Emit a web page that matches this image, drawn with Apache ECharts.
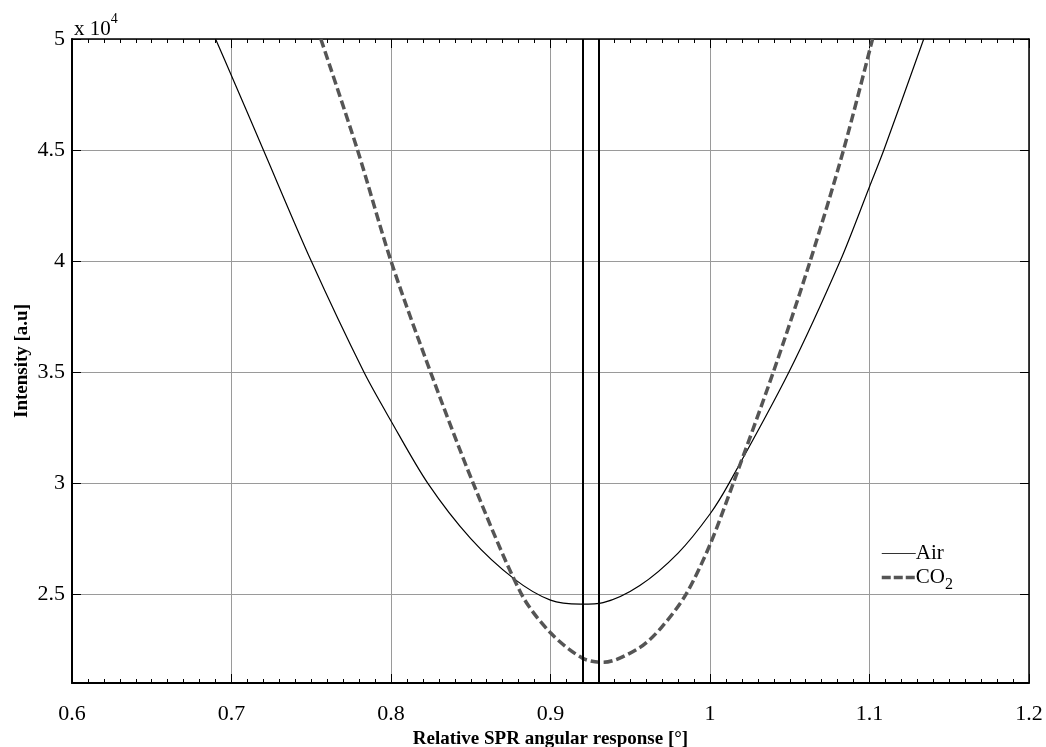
<!DOCTYPE html>
<html>
<head>
<meta charset="utf-8">
<script src="https://cdn.jsdelivr.net/npm/echarts@6/dist/echarts.min.js"></script>
<style>
  html, body { margin: 0; padding: 0; background: #fff; }
  #chart { width: 1046px; height: 747px; }
</style>
</head>
<body>
<div id="chart"></div>
<script>
// values (x in degrees, intensity in a.u.)
const airX = [0.690, 0.700, 0.720, 0.750, 0.783, 0.800, 0.823, 0.850, 0.877, 0.900, 0.919, 0.933, 0.956, 0.980, 1.000, 1.012, 1.0495, 1.0816, 1.100, 1.109, 1.134];
const airY = [50000, 48350, 45000, 40000, 35000, 32800, 30000, 27500, 25700, 24730, 24550, 24620, 25390, 26850, 28610, 30000, 35000, 40000, 43350, 45000, 50000];

const co2X = [0.756, 0.779, 0.800, 0.8248, 0.8515, 0.8818, 0.900, 0.920, 0.933, 0.956, 0.970, 0.985, 1.000, 1.0146, 1.0397, 1.0628, 1.0837, 1.1019];
const co2Y = [50000, 45000, 40000, 35000, 30000, 25000, 23260, 22120, 21930, 22600, 23540, 25000, 27230, 30000, 35000, 40000, 45000, 50000];

// resonance minima marked with vertical lines
const minLinesX = [0.919, 0.9325];

// labelled y ticks (shown divided by 1e4)
const yTickValues = [25000, 30000, 35000, 40000, 45000, 50000];

const font = 'Liberation Serif';
const zip = (xs, ys) => xs.map((x, i) => [x, ys[i]]);

const chart = echarts.init(document.getElementById('chart'));

const tickFmt = v => String(Math.round(v * 10) / 10);

const option = {
  animation: false,
  backgroundColor: '#fff',
  textStyle: { fontFamily: font },
  grid: { left: 72, right: 17, top: 39, bottom: 64, outerBoundsMode: 'none', containLabel: false },
  legend: {
    left: 875,
    top: 538,
    orient: 'vertical',
    itemWidth: 34,
    itemHeight: 14,
    itemGap: 3,
    itemStyle: { opacity: 0 },
    textStyle: {
      fontFamily: font, fontSize: 21, color: '#000', padding: [0, 0, 0, -5],
      rich: {
        sub: { fontFamily: font, fontSize: 16, lineHeight: 30, verticalAlign: 'bottom' }
      }
    },
    formatter: name => name === 'CO2' ? 'CO{sub|2}' : name,
    data: [
      { name: 'Air', lineStyle: { color: '#333', width: 1 } },
      { name: 'CO2', lineStyle: { color: '#555', width: 3.5, type: [9, 3] } }
    ]
  },
  graphic: [
    {
      type: 'text', left: 74, top: 12,
      style: {
        text: 'x 10{sup|4}',
        font: '21px "Liberation Serif"',
        fill: '#000',
        rich: { sup: { fontFamily: font, fontSize: 14, lineHeight: 34, verticalAlign: 'top' } }
      }
    }
  ],
  xAxis: [
    {
      type: 'value', min: 0.6, max: 1.2, interval: 0.1,
      name: 'Relative SPR angular response [°]',
      nameLocation: 'middle', nameGap: 47, nameMoveOverlap: false,
      nameTextStyle: { fontFamily: font, fontSize: 19, fontWeight: 'bold', color: '#000' },
      axisLine: { onZero: false, lineStyle: { color: '#000', width: 2 } },
      axisTick: { inside: true, length: 9, lineStyle: { color: '#000' } },
      minorTick: { show: true, splitNumber: 10, length: 4, lineStyle: { color: '#000' } },
      axisLabel: { fontFamily: font, fontSize: 22, color: '#000', margin: 20, formatter: tickFmt },
      splitLine: { show: true, lineStyle: { color: '#9a9a9a', width: 1 } }
    },
    {
      type: 'value', position: 'top', min: 0.6, max: 1.2, interval: 0.1,
      axisLine: { onZero: false, lineStyle: { color: '#000', width: 1.5 } },
      axisTick: { inside: true, length: 9, lineStyle: { color: '#000' } },
      minorTick: { show: true, splitNumber: 10, length: 4, lineStyle: { color: '#000' } },
      axisLabel: { show: false },
      splitLine: { show: false }
    }
  ],
  yAxis: [
    {
      type: 'value', min: 21000, max: 50000, splitNumber: 6,
      name: 'Intensity [a.u]',
      nameLocation: 'middle', nameGap: 40, nameMoveOverlap: false,
      nameTextStyle: { fontFamily: font, fontSize: 19, fontWeight: 'bold', color: '#000' },
      axisLine: { show: true, onZero: false, lineStyle: { color: '#000', width: 2 } },
      axisTick: { show: true, inside: true, length: 9, lineStyle: { color: '#000' } },
      axisLabel: {
        fontFamily: font, fontSize: 22, color: '#000', margin: 7,
        formatter: v => yTickValues.includes(v) ? String(v / 1e4) : ''
      },
      splitLine: { show: true, lineStyle: { color: '#9a9a9a', width: 1 } }
    },
    {
      type: 'value', position: 'right', min: 21000, max: 50000, splitNumber: 6,
      axisLine: { show: true, onZero: false, lineStyle: { color: '#000', width: 1.5 } },
      axisTick: { show: true, inside: true, length: 9, lineStyle: { color: '#000' } },
      axisLabel: { show: false },
      splitLine: { show: false }
    }
  ],
  series: [
    {
      name: 'Air',
      type: 'line',
      symbol: 'none',
      smooth: 0.3,
      data: zip(airX, airY),
      lineStyle: { color: '#000', width: 1.2 },
      itemStyle: { color: '#444' },
      markLine: {
        silent: true,
        symbol: 'none',
        label: { show: false },
        lineStyle: { color: '#000', width: 2, type: 'solid' },
        data: minLinesX.map(x => ({ xAxis: x }))
      }
    },
    {
      name: 'CO2',
      type: 'line',
      symbol: 'none',
      smooth: 0.3,
      data: zip(co2X, co2Y),
      lineStyle: { color: '#555', width: 3.5, type: [9, 4] },
      itemStyle: { color: '#555' }
    }
  ]
};

chart.setOption(option);
</script>
</body>
</html>
